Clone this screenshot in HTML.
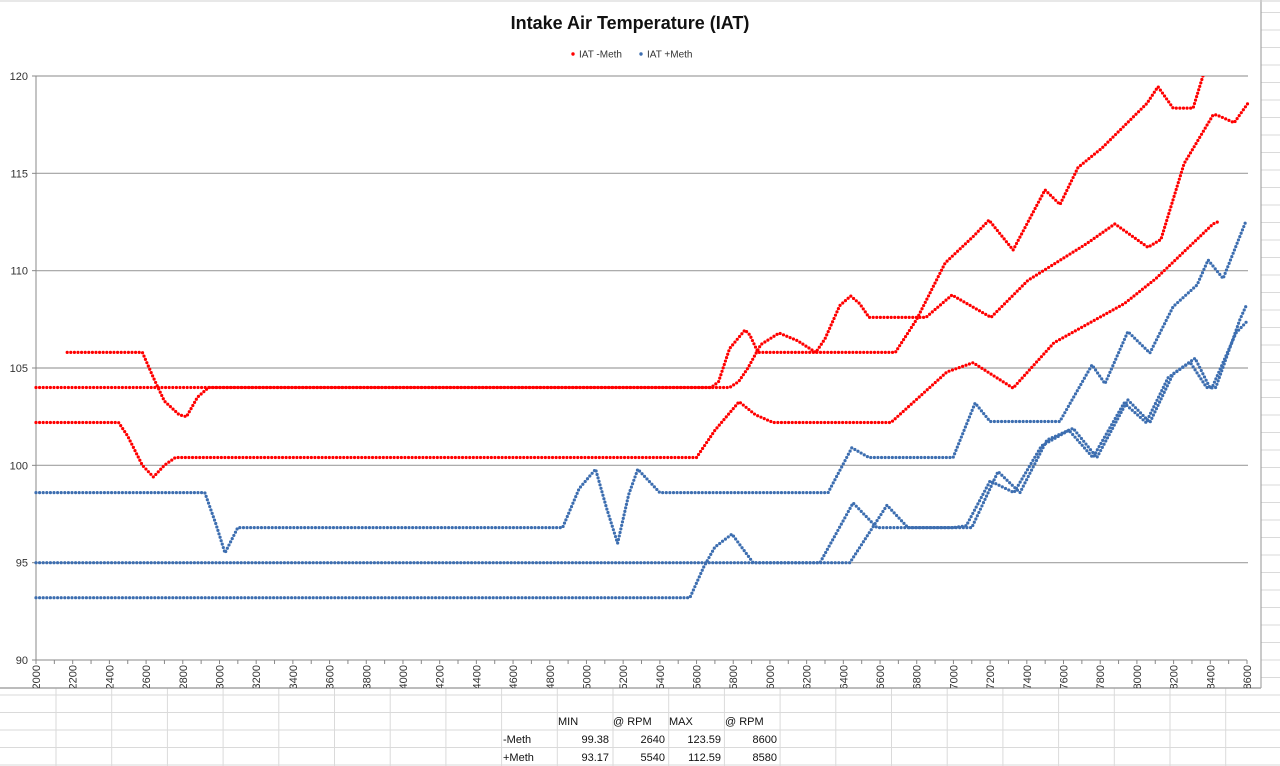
<!DOCTYPE html>
<html><head><meta charset="utf-8"><style>
html,body{margin:0;padding:0;background:#fff;}
svg{display:block;font-family:"Liberation Sans",Arial,sans-serif;}
</style></head><body>
<svg id="chart" width="1280" height="766" viewBox="0 0 1280 766" xmlns="http://www.w3.org/2000/svg">
<defs><clipPath id="plotclip"><rect x="30" y="76" width="1225" height="584"/></clipPath>
<clipPath id="lblclip"><rect x="0" y="660" width="1280" height="28"/></clipPath></defs>
<g id="cells"></g>
<rect x="0" y="0" width="1261" height="688" fill="#fff" stroke="none"/>
<line x1="1261" y1="0" x2="1261" y2="688" stroke="#a6a6a6" stroke-width="1.2"/>
<line x1="0" y1="688" x2="1261" y2="688" stroke="#a6a6a6" stroke-width="1.5"/>
<line x1="0" y1="1" x2="1280" y2="1" stroke="#d0d0d0" stroke-width="1"/>
<text x="630" y="29" text-anchor="middle" font-size="18" font-weight="bold" fill="#111">Intake Air Temperature (IAT)</text>
<g>
<g><circle cx="573" cy="54" r="1.7" fill="#ff0000"/><text x="579" y="57.5" font-size="10" fill="#333">IAT -Meth</text></g>
<g><circle cx="641" cy="54" r="1.7" fill="#3d6eb0"/><text x="647" y="57.5" font-size="10" fill="#333">IAT +Meth</text></g>
</g>
<g id="grid"></g>
<g id="axes"></g>
<g id="series" clip-path="url(#plotclip)"></g>
<g font-size="11" fill="#111">
<text x="558" y="725">MIN</text><text x="613" y="725">@ RPM</text><text x="669" y="725">MAX</text><text x="725" y="725">@ RPM</text>
<text x="503" y="743">-Meth</text><text x="609" y="743" text-anchor="end">99.38</text><text x="665" y="743" text-anchor="end">2640</text><text x="721" y="743" text-anchor="end">123.59</text><text x="777" y="743" text-anchor="end">8600</text>
<text x="503" y="761">+Meth</text><text x="609" y="761" text-anchor="end">93.17</text><text x="665" y="761" text-anchor="end">5540</text><text x="721" y="761" text-anchor="end">112.59</text><text x="777" y="761" text-anchor="end">8580</text>
</g>
</svg>
<script>
const yTicks = [90, 95, 100, 105, 110, 115, 120];
const xTickLabels = [2000,2200,2400,2600,2800,3000,3200,3400,3600,3800,4000,4200,4400,4600,4800,5000,5200,5400,5600,5800,6000,6200,6400,6600,6800,7000,7200,7400,7600,7800,8000,8200,8400,8600];
const minusMeth1Rpm = [2170,2580,2640,2700,2780,2820,2880,2940,5680,5720,5780,5864,5890,5935,6683,6800,6955,7107,7194,7325,7499,7581,7679,7810,8055,8115,8197,8306,8366,8420];
const minusMeth1Val = [105.8,105.8,104.5,103.3,102.6,102.5,103.5,104,104,104.3,106,106.95,106.7,105.8,105.8,107.5,110.4,111.75,112.6,111.06,114.15,113.4,115.3,116.3,118.6,119.45,118.35,118.35,120.2,122];
const minusMeth2Rpm = [2000,5780,5830,5880,5950,6050,6150,6250,6300,6380,6440,6490,6540,6850,6992,7205,7406,7728,7880,8060,8131,8257,8415,8435,8530,8605];
const minusMeth2Val = [104,104,104.3,105,106.2,106.8,106.4,105.8,106.5,108.2,108.7,108.3,107.6,107.6,108.75,107.6,109.5,111.4,112.4,111.2,111.6,115.5,118,118,117.6,118.6];
const minusMeth3Rpm = [2000,2450,2500,2580,2640,2700,2760,5600,5700,5832,5920,6017,6660,6965,7107,7325,7548,7930,8104,8415,8440];
const minusMeth3Val = [102.2,102.2,101.5,100,99.4,100,100.4,100.4,101.8,103.27,102.6,102.2,102.2,104.8,105.27,103.97,106.3,108.3,109.6,112.4,112.5];
const plusMeth1Rpm = [2000,2920,2980,3030,3100,4870,4960,5050,5110,5170,5230,5280,5400,6317,6446,6540,6998,7118,7200,7580,7755,7826,7951,8071,8197,8328,8388,8470,8590];
const plusMeth1Val = [98.6,98.6,97,95.5,96.8,96.8,98.8,99.8,97.8,96,98.5,99.8,98.6,98.6,100.9,100.4,100.4,103.2,102.25,102.25,105.16,104.2,106.87,105.77,108.15,109.27,110.55,109.6,112.45];
const plusMeth2Rpm = [2000,6436,6638,6752,7000,7100,7243,7363,7510,7652,7782,7951,8071,8197,8317,8399,8430,8562,8600];
const plusMeth2Val = [95,95,97.95,96.8,96.8,96.8,99.68,98.6,101.3,101.9,100.4,103.36,102.2,104.7,105.5,103.97,104,107.5,108.3];
const plusMeth3Rpm = [2000,5564,5640,5700,5793,5908,6273,6453,6583,7000,7070,7200,7330,7480,7630,7760,7930,8050,8170,8290,8380,8410,8540,8600];
const plusMeth3Val = [93.2,93.2,94.8,95.8,96.47,95,95,98.07,96.8,96.8,96.9,99.2,98.6,101,101.8,100.4,103.2,102.2,104.5,105.3,104,104,106.8,107.4];

const NS = 'http://www.w3.org/2000/svg';
const X0 = 36, X1 = 1247, Y0 = 660, Y1 = 76;
function sx(r){ return X0 + (r - 2000) * (X1 - X0) / 6600; }
function sy(v){ return Y0 - (v - 90) * (Y0 - Y1) / 30; }
function mk(tag, attrs, parent){ const e = document.createElementNS(NS, tag); for (const k in attrs) e.setAttribute(k, attrs[k]); parent.appendChild(e); return e; }

const cells = document.getElementById('cells');
for (let y = 765; y > 0; y -= 17.5) {
  const l = mk('line', {x1: 0, y1: y, x2: 1280, y2: y, stroke: '#dadada', 'stroke-width': 1}, cells);
  
  
}
for (let x = 56; x < 1280; x += 55.7) {
  const l = mk('line', {x1: x, y1: 688, x2: x, y2: 766, stroke: '#dadada', 'stroke-width': 1}, cells);
  
  
}

const grid = document.getElementById('grid');
const axes = document.getElementById('axes');
yTicks.forEach(v => {
  if (v > 90) {
    const g = mk('line', {x1: X0, y1: sy(v), x2: X1 + 1, y2: sy(v), stroke: '#a0a0a0', 'stroke-width': 1.2}, grid);
    
    
  }
  const t = mk('line', {x1: X0 - 4, y1: sy(v), x2: X0, y2: sy(v), stroke: '#888', 'stroke-width': 1}, axes);
  
  
  const lb = mk('text', {x: 28, y: sy(v) + 4, 'text-anchor': 'end', 'font-size': 11, fill: '#333'}, axes);
  lb.textContent = v;
  
  
});
const ya = mk('line', {x1: X0, y1: Y1, x2: X0, y2: Y0, stroke: '#888', 'stroke-width': 1}, axes);


const xa = mk('line', {x1: X0, y1: Y0, x2: X1, y2: Y0, stroke: '#888', 'stroke-width': 1}, axes);


for (let r = 2000; r <= 8600; r += 100) {
  const t = mk('line', {x1: sx(r), y1: Y0, x2: sx(r), y2: Y0 + 4, stroke: '#888', 'stroke-width': 1}, axes);
  
  
}
const lblG = mk('g', {'clip-path': 'url(#lblclip)'}, axes);


xTickLabels.forEach(r => {
  const x = sx(r) + 4, y = 665;
  const lb = mk('text', {x: x, y: y, 'text-anchor': 'end', 'font-size': 11, fill: '#333', transform: 'rotate(-90 ' + x + ' ' + y + ')'}, lblG);
  lb.textContent = r;
  
  
});

const seriesG = document.getElementById('series');
function drawSeries(rpms, vals, color, name){
  const pts = rpms.map((r, i) => sx(r).toFixed(1) + ',' + sy(vals[i]).toFixed(1)).join(' ');
  const p = mk('polyline', {points: pts, fill: 'none', stroke: color, 'stroke-width': 3.2, 'stroke-linecap': 'round', 'stroke-linejoin': 'round', 'stroke-dasharray': '0 3.6'}, seriesG);
  
  
}
drawSeries(minusMeth1Rpm, minusMeth1Val, '#ff0000', 'iat-minus-meth-run-1');
drawSeries(minusMeth2Rpm, minusMeth2Val, '#ff0000', 'iat-minus-meth-run-2');
drawSeries(minusMeth3Rpm, minusMeth3Val, '#ff0000', 'iat-minus-meth-run-3');
drawSeries(plusMeth1Rpm, plusMeth1Val, '#3d6eb0', 'iat-plus-meth-run-1');
drawSeries(plusMeth2Rpm, plusMeth2Val, '#3d6eb0', 'iat-plus-meth-run-2');
drawSeries(plusMeth3Rpm, plusMeth3Val, '#3d6eb0', 'iat-plus-meth-run-3');
</script>
</body></html>
